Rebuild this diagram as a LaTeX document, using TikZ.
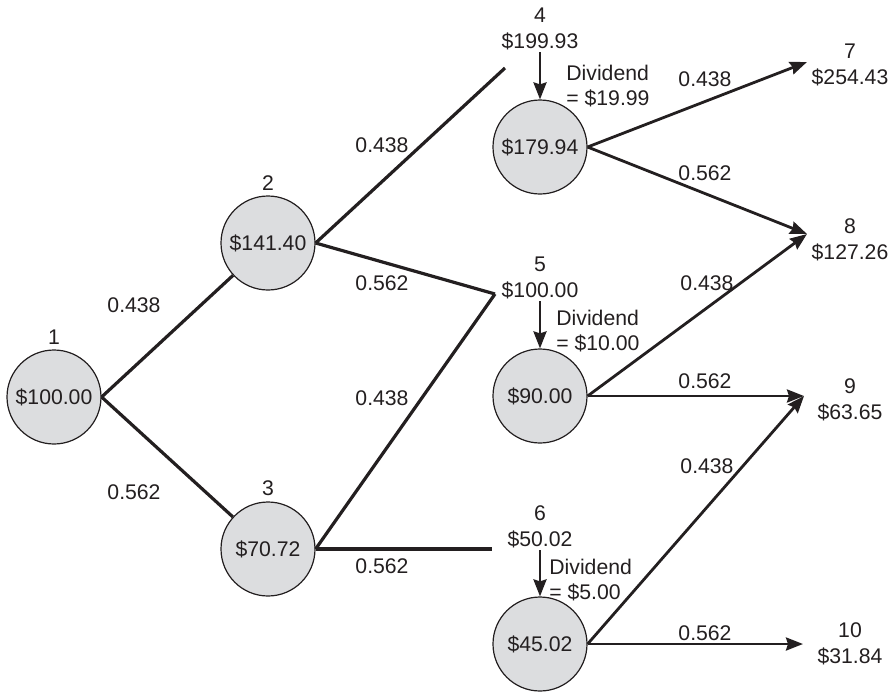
\documentclass[tikz,border=0pt]{standalone}
\usepackage{fontspec}
\setmainfont{Liberation Sans}
\usetikzlibrary{arrows.meta}
\definecolor{treegrey}{HTML}{DCDDDF}
\definecolor{treeink}{HTML}{231F20}
\newcommand{\treefont}{\fontsize{10.6}{12.8}\selectfont}
\tikzset{
  price/.style={circle, draw=treeink, line width=0.6pt, fill=treegrey,
                minimum size=47pt, inner sep=0pt, font=\treefont, text=treeink},
  tag/.style={align=center, inner sep=1pt, font=\treefont, text=treeink},
  divtag/.style={align=left, anchor=west, inner sep=0pt, font=\treefont, text=treeink},
  prob/.style={font=\treefont, text=treeink, inner sep=0pt},
  branch/.style={line width=1.6pt, draw=treeink},
  flow/.style={-{Stealth[length=8.5pt,width=6.5pt,inset=1pt]}, line width=1.4pt, draw=treeink},
}

\begin{document}
\begin{tikzpicture}[x=0.5pt, y=-0.5pt]
\useasboundingbox (0,0) rectangle (895,692);

% first two periods
\node[price, label={[tag, label distance=1.5pt]above:1}] (n1) at (54,397) {\$100.00};
\node[price, label={[tag, label distance=1.5pt]above:2}] (n2) at (268,243) {\$141.40};
\node[price, label={[tag, label distance=1.5pt]above:3}] (n3) at (268,549) {\$70.72};

% ex-dividend nodes
\node[tag] (p4) at (540,29) {4\\\$199.93};
\node[tag] (p5) at (540,278) {5\\\$100.00};
\node[tag] (p6) at (540,527) {6\\\$50.02};
\node[price] (n4) at (540,147) {\$179.94};
\node[price] (n5) at (540,396) {\$90.00};
\node[price] (n6) at (540,644) {\$45.02};
\node[divtag] (d4) at (566,86) {Dividend\\= \$19.99};
\node[divtag] (d5) at (556,331) {Dividend\\= \$10.00};
\node[divtag] (d6) at (549,580) {Dividend\\= \$5.00};

% final period
\node[tag] (t7) at (850,65) {7\\\$254.43};
\node[tag] (t8) at (850,240) {8\\\$127.26};
\node[tag] (t9) at (850,400) {9\\\$63.65};
\node[tag] (t10) at (850,644) {10\\\$31.84};

\coordinate (e4) at (505,68);
\coordinate (e5) at (495,294);
\coordinate (e6) at (492,549);
\coordinate (a7) at (807,62);
\coordinate (a8) at (807,234);
\coordinate (a9) at (804,396);
\coordinate (a10) at (803,644);

\draw[branch] (n1.east) -- (n2);
\draw[branch] (n1.east) -- (n3);
\draw[branch] (n2.east) -- (e4);
\draw[branch] (n2.east) -- (e5);
\draw[branch] (n3.east) -- (e5);
\draw[branch] (n3.east) -- (e6);

\draw[flow] (p4) -- (n4);
\draw[flow] (p5) -- (n5);
\draw[flow] (p6) -- (n6);

\draw[flow] (n4.east) -- (a7);
\draw[flow] (n4.east) -- (a8);
\draw[flow] (n5.east) -- (a8);
\draw[flow] (n5.east) -- (a9);
\draw[flow] (n6.east) -- (a9);
\draw[flow] (n6.east) -- (a10);

% branch probabilities
\node[prob] (q12) at (134,305) {0.438};
\node[prob] (q13) at (134,492) {0.562};
\node[prob] (q24) at (382,145) {0.438};
\node[prob] (q25) at (382,283) {0.562};
\node[prob] (q35) at (382,398) {0.438};
\node[prob] (q36) at (382,566) {0.562};
\node[prob] (q47) at (705,79) {0.438};
\node[prob] (q48) at (705,173) {0.562};
\node[prob] (q58) at (707,283) {0.438};
\node[prob] (q59) at (705,381) {0.562};
\node[prob] (q69) at (707,466) {0.438};
\node[prob] (q610) at (705,633) {0.562};

\end{tikzpicture}
\end{document}
